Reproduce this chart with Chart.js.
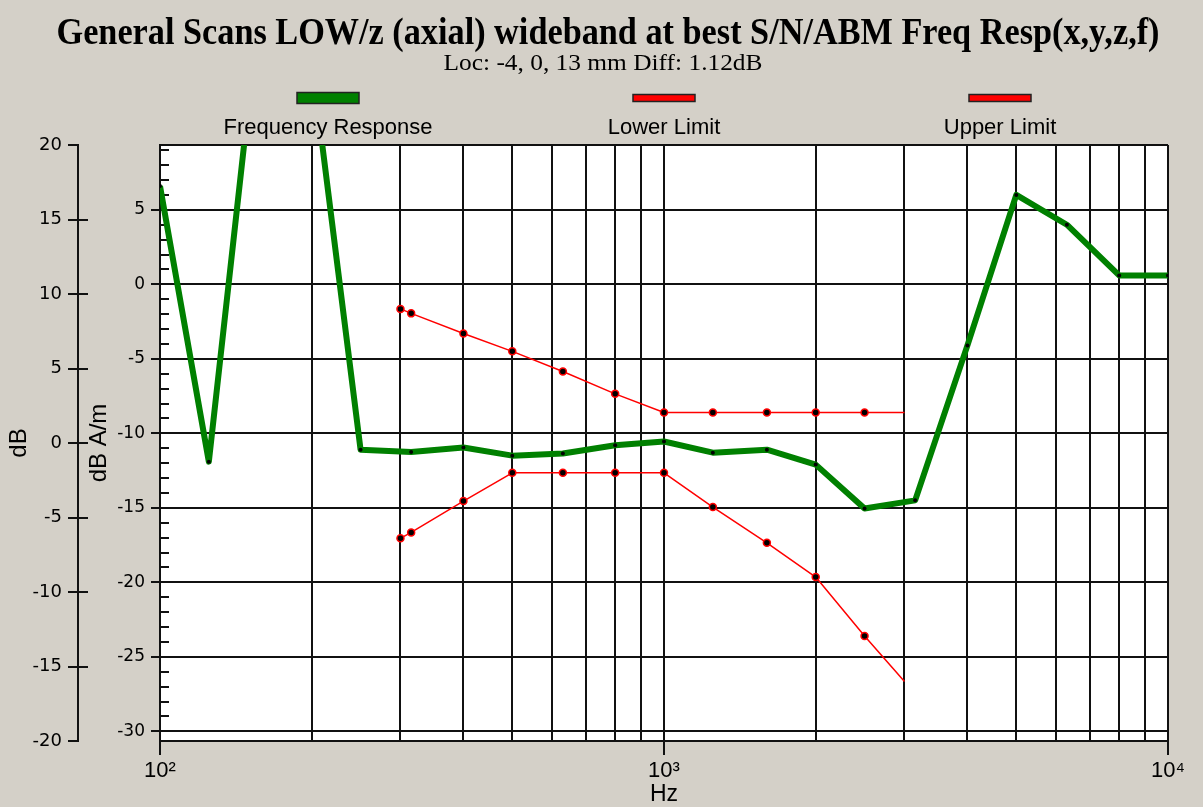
<!DOCTYPE html>
<html>
<head>
<meta charset="utf-8">
<title>General Scans LOW/z Freq Resp</title>
<script src="https://cdn.jsdelivr.net/npm/chart.js@4.4.1/dist/chart.umd.min.js"></script>
<style>
  html, body { margin: 0; padding: 0; background: #d4d0c8; }
  #wrap { width: 1203px; height: 807px; }
</style>
</head>
<body>
<div id="wrap"><canvas id="respChart" width="1203" height="807"></canvas></div>
<script>
const titleText = "General Scans LOW/z (axial) wideband at best S/N/ABM Freq Resp(x,y,z,f)";
const subtitleText = "Loc: -4, 0, 13 mm Diff: 1.12dB";

// measured response, 1/3 octave points (dB A/m)
const responseHz = [100, 125, 160, 200, 250, 315, 400, 500, 630, 800, 1000, 1250, 1600, 2000, 2500, 3150, 4000, 5000, 6300, 8000, 10000];
const responseDb = [6.6, -11.9, 20.7, 15.0, -11.1, -11.25, -10.95, -11.5, -11.35, -10.8, -10.55, -11.3, -11.1, -12.1, -15.05, -14.5, -4.1, 6.0, 4.0, 0.6, 0.6];

// limit masks
const limitHz = [300, 315, 400, 500, 630, 800, 1000, 1250, 1600, 2000, 2500, 3000];
const lowerLimitDb = [-17.05, -16.65, -14.55, -12.65, -12.65, -12.65, -12.65, -14.95, -17.35, -19.65, -23.6, -26.65];
const upperLimitDb = [-1.65, -1.95, -3.3, -4.5, -5.85, -7.35, -8.6, -8.6, -8.6, -8.6, -8.6, -8.6];

// axes
const xGridHz = [100, 200, 300, 400, 500, 600, 700, 800, 900, 1000, 2000, 3000, 4000, 5000, 6000, 7000, 8000, 9000, 10000];
const xDecadeHz = [100, 1000, 10000];
const xDecadeLabels = ["10²", "10³", "10⁴"];
const dbAmLabelTicks = [5, 0, -5, -10, -15, -20, -25, -30];
const dbTicks = [20, 15, 10, 5, 0, -5, -10, -15, -20];

const BG = "#d4d0c8";
const GRID = "#111111";
const sansLabel = "'DejaVu Sans', sans-serif";
const arial = "'Liberation Sans', Arial, sans-serif";

function drawSqueezed(c, text, font, cx, baseline, width) {
  c.font = font;
  const w = c.measureText(text).width;
  c.save();
  c.translate(cx, baseline);
  c.scale(width / w, 1);
  c.textAlign = "center";
  c.textBaseline = "alphabetic";
  c.fillStyle = "#000";
  c.fillText(text, 0, 0);
  c.restore();
}

const panelPlugin = {
  id: "panel",
  beforeDraw(chart) {
    const { ctx: c, chartArea: a } = chart;
    c.save();
    c.fillStyle = BG;
    c.fillRect(0, 0, chart.width, chart.height);
    c.fillStyle = "#ffffff";
    c.fillRect(a.left, a.top, a.right - a.left, a.bottom - a.top);
    c.restore();
  },
  beforeDatasetsDraw(chart) {
    const { ctx: c, chartArea: a, scales } = chart;
    const inner = scales.y;
    const outer = scales.y2;
    c.save();
    c.strokeStyle = GRID;
    c.lineWidth = 2;
    c.beginPath();
    // minor ticks inside the plot
    inner.ticks.forEach((t) => {
      if (t.value % 5 !== 0) {
        const py = Math.round(inner.getPixelForValue(t.value));
        c.moveTo(a.left, py);
        c.lineTo(a.left + 9, py);
      }
    });
    // outer dB ticks cross the axis line
    outer.ticks.forEach((t) => {
      if (t.value > outer.min && t.value < outer.max) {
        const py = Math.round(outer.getPixelForValue(t.value));
        c.moveTo(outer.right, py);
        c.lineTo(outer.right + 10, py);
      }
    });
    // top frame
    c.moveTo(a.left, a.top);
    c.lineTo(a.right, a.top);
    c.stroke();
    c.restore();
  },
  afterDraw(chart) {
    const { ctx: c, chartArea: a } = chart;
    drawSqueezed(c, titleText, "bold 38px 'Liberation Serif', serif", 608, 44, 1103);
    drawSqueezed(c, subtitleText, "23px 'Liberation Serif', serif", 603, 70, 319);

    // legend: swatch above label, one third of the plot width each
    const step = (a.right - a.left) / 3;
    chart.data.datasets.forEach((ds, i) => {
      const cx = a.left + (i + 0.5) * step;
      const h = ds.borderWidth > 3 ? 11 : 7;
      c.save();
      c.fillStyle = ds.borderColor;
      c.fillRect(cx - 31, 98 - h / 2, 62, h);
      c.strokeStyle = "#222";
      c.lineWidth = 1.5;
      c.strokeRect(cx - 31, 98 - h / 2, 62, h);
      c.fillStyle = "#000";
      c.font = "22px " + arial;
      c.textAlign = "center";
      c.textBaseline = "middle";
      c.fillText(ds.label, cx, 128);
      c.restore();
    });
  }
};

const limitStyle = {
  borderColor: "#ff0000",
  backgroundColor: "#ff0000",
  borderWidth: 1.5,
  pointBackgroundColor: "#000",
  pointBorderColor: "#ff0000",
  pointBorderWidth: 1.5,
  pointRadius: (c) => (c.dataIndex === limitHz.length - 1 ? 0 : 3.5),
  borderJoinStyle: "round",
  yAxisID: "y"
};

const ctx = document.getElementById("respChart");

const respChart = new Chart(ctx, {
  type: "line",
  data: {
    datasets: [
      {
        label: "Frequency Response",
        data: responseHz.map((hz, i) => ({ x: hz, y: responseDb[i] })),
        borderColor: "#008000",
        backgroundColor: "#008000",
        borderWidth: 6,
        borderJoinStyle: "round",
        pointRadius: 2,
        pointBackgroundColor: "#000",
        pointBorderWidth: 0,
        clip: 0,
        yAxisID: "y"
      },
      {
        label: "Lower Limit",
        data: limitHz.map((hz, i) => ({ x: hz, y: lowerLimitDb[i] })),
        ...limitStyle
      },
      {
        label: "Upper Limit",
        data: limitHz.map((hz, i) => ({ x: hz, y: upperLimitDb[i] })),
        ...limitStyle
      }
    ]
  },
  options: {
    responsive: false,
    animation: false,
    layout: { padding: { top: 145, right: 35, bottom: 0, left: 0 } },
    plugins: {
      legend: { display: false },
      title: { display: false },
      tooltip: { enabled: false }
    },
    scales: {
      x: {
        type: "logarithmic",
        min: 100,
        max: 10000,
        afterBuildTicks: (scale) => {
          scale.ticks = xGridHz.map((v) => ({ value: v }));
        },
        afterFit: (scale) => {
          scale.height = 66;
        },
        ticks: {
          autoSkip: false,
          maxRotation: 0,
          padding: 3,
          color: "#000",
          font: { family: arial, size: 22 },
          callback: (v) => {
            const i = xDecadeHz.indexOf(v);
            return i >= 0 ? xDecadeLabels[i] : "";
          }
        },
        grid: {
          color: GRID,
          lineWidth: 2,
          tickLength: 14,
          tickWidth: 2,
          tickColor: (c) => (c.tick && xDecadeHz.includes(c.tick.value) ? GRID : "rgba(0,0,0,0)")
        },
        border: { display: true, color: GRID, width: 2 },
        title: {
          display: true,
          text: "Hz",
          color: "#000",
          font: { family: arial, size: 23, lineHeight: 1 },
          padding: { top: 0, bottom: 1 }
        }
      },
      y: {
        position: "left",
        weight: 0,
        min: -30.65,
        max: 9.35,
        afterBuildTicks: (scale) => {
          const t = [];
          for (let v = -30; v <= 9; v++) t.push({ value: v });
          scale.ticks = t;
        },
        afterFit: (scale) => {
          scale.width = 82;
        },
        ticks: {
          autoSkip: false,
          padding: 6,
          color: "#000",
          font: { family: sansLabel, size: 17 },
          callback: (v) => (dbAmLabelTicks.includes(v) ? String(v) : "")
        },
        grid: {
          color: (c) => (c.tick && c.tick.value % 5 === 0 ? GRID : "rgba(0,0,0,0)"),
          lineWidth: 2,
          tickLength: 9,
          tickColor: (c) => (c.tick && c.tick.value % 5 === 0 ? GRID : "rgba(0,0,0,0)")
        },
        border: { display: true, color: GRID, width: 2 },
        title: {
          display: true,
          text: "dB A/m",
          color: "#000",
          font: { family: arial, size: 24, lineHeight: 1 },
          padding: { top: 9, bottom: 0 }
        }
      },
      y2: {
        position: "left",
        weight: 1,
        min: -20,
        max: 20,
        afterBuildTicks: (scale) => {
          scale.ticks = dbTicks.map((v) => ({ value: v }));
        },
        afterFit: (scale) => {
          scale.width = 78;
        },
        ticks: {
          autoSkip: false,
          padding: 6,
          color: "#000",
          font: { family: sansLabel, size: 18 },
          callback: (v) => String(v)
        },
        grid: {
          drawOnChartArea: false,
          color: GRID,
          lineWidth: 2,
          tickLength: 10
        },
        border: { display: true, color: GRID, width: 2 },
        title: {
          display: true,
          text: "dB",
          color: "#000",
          font: { family: arial, size: 24, lineHeight: 1 },
          padding: { top: 7, bottom: 0 }
        }
      }
    }
  },
  plugins: [panelPlugin]
});
</script>
</body>
</html>
